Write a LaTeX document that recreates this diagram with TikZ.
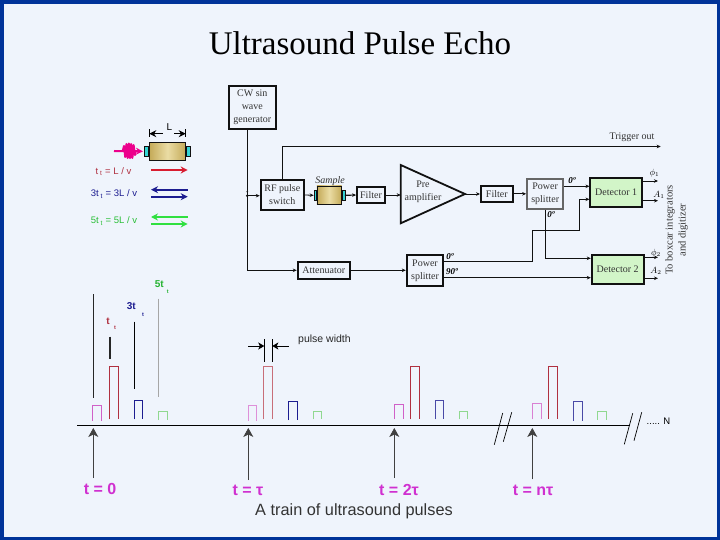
\documentclass[tikz,border=0pt]{standalone}
\usepackage{fontspec}
\setmainfont{Liberation Serif}
\setsansfont{Liberation Sans}
\usetikzlibrary{arrows.meta, positioning, calc}
\definecolor{framecol}{HTML}{003399}
\definecolor{pagecol}{HTML}{EFF4FC}
\definecolor{boxline}{HTML}{111111}
\definecolor{detfill}{HTML}{D2F5C8}
\definecolor{capcyan}{HTML}{35D5D5}
\definecolor{rodgold}{HTML}{C4AA58}
\definecolor{rodlight}{HTML}{EADCA4}
\definecolor{pinkc}{HTML}{D060C8}
\definecolor{magc}{HTML}{D030D0}
\definecolor{redc}{HTML}{B03040}
\definecolor{arrred}{HTML}{D81C30}
\definecolor{navyc}{HTML}{1C1C90}
\definecolor{greenc}{HTML}{30E040}
\definecolor{paleg}{HTML}{90D890}
\tikzset{
  blockbox/.style={draw=boxline, line width=1.8pt, fill=pagecol, align=center, inner sep=0pt,
              font=\fontsize{10}{13}\selectfont, text=black!80},
  detbox/.style={blockbox, fill=detfill},
  crystal/.style={draw=boxline, inner sep=0pt, left color=rodgold, right color=rodgold,
              middle color=rodlight},
  capbox/.style={draw=boxline, line width=0.4pt, fill=capcyan, inner sep=0pt},
  flow/.style={-{Stealth[length=4pt,width=3.5pt]}, line width=0.8pt, draw=boxline},
  plainflow/.style={line width=0.8pt, draw=boxline},
  fatflow/.style={-{Stealth[length=4pt,width=3.5pt]}, line width=1.2pt, draw=boxline},
  angle/.style={font=\fontsize{9}{10}\selectfont\itshape\bfseries},
  outlbl/.style={font=\fontsize{9}{10}\selectfont\itshape},
  eqn/.style={font=\sffamily\fontsize{9.5}{11}\selectfont},
  dirflow/.style={-{Stealth[length=7pt,width=7pt]}, line width=2pt},
  pulse/.style={line width=0.8pt},
  marker/.style={line width=0.9pt},
  tickt/.style={-{Stealth[length=9pt,width=10pt,inset=2.5pt]}, line width=0.7pt, draw=black!75},
  widthflow/.style={-{Stealth[length=6pt,width=7pt,inset=1.5pt]}, line width=0.9pt, draw=black},
  tlbl/.style={text=magc, font=\sffamily\bfseries\fontsize{16}{18}\selectfont},
  echolbl/.style={font=\sffamily\bfseries\fontsize{10}{12}\selectfont},
  echosub/.style={font=\sffamily\bfseries\fontsize{5.5}{7}\selectfont},
  slash/.style={line width=0.7pt, draw=black},
}

\begin{document}
\begin{tikzpicture}[x=1pt,y=-1pt]
  \useasboundingbox (0,0) rectangle (720,540);
  \fill[framecol] (0,0) rectangle (720,540);
  \fill[pagecol] (4,4) rectangle (717,537);
  \node[font=\fontsize{33}{37}\selectfont] (title) at (360,43) {Ultrasound Pulse Echo};

  % sample sketch and the three passes
  \node[crystal, line width=0.9pt, minimum width=36.4pt, minimum height=18pt] (rod) at (167.5,151.3) {};
  \node[capbox, minimum width=4pt, minimum height=9.3pt, anchor=east] (rodcapL) at (rod.west) {};
  \node[capbox, minimum width=4.3pt, minimum height=9.3pt, anchor=west] (rodcapR) at (rod.east) {};
  \node[font=\sffamily\fontsize{10}{11}\selectfont] (lenL) at (169.3,127.3) {L};
  \coordinate (dimA) at (162.5,133.7);
  \coordinate (dimB) at (174,133.7);
  \draw[line width=0.8pt] (149.3,129.3) -- (149.3,137.3);
  \draw[line width=0.8pt] (185.7,129.3) -- (185.7,137.3);
  \draw[-{Stealth[length=7pt,width=7pt]}, line width=1.4pt] (dimA) -- (149.3,133.7);
  \draw[-{Stealth[length=7pt,width=7pt]}, line width=1.4pt] (dimB) -- (185.7,133.7);
  \coordinate (burst) at (114,151);
  \draw[dirflow, magenta] (burst) -- ($(rodcapL.west)+(-1.5,0)$);
  \draw[magenta, line width=2pt, line join=round] (122.7,151) -- (124,146) -- (125.2,157) -- (126.4,144) -- (127.6,158)
    -- (128.8,143.5) -- (130,158) -- (131.2,144) -- (132.4,158) -- (133.6,145) -- (135,155) -- (135.8,151);

  \node[eqn, text=redc] (eqA) at (113.5,171.5) {t\textsubscript{ t} = L / v};
  \node[eqn, text=navyc] (eqB) at (114,194) {3t\textsubscript{ t} = 3L / v};
  \node[eqn, text=greenc!85!black] (eqC) at (114,221) {5t\textsubscript{ t} = 5L / v};
  \draw[dirflow, draw=arrred, fill=arrred] (151,170) -- (187.7,170);
  \draw[dirflow, draw=navyc, fill=navyc] (187.7,189.7) -- (151,189.7);
  \draw[dirflow, draw=navyc, fill=navyc] (151,196.7) -- (187.7,196.7);
  \draw[dirflow, draw=greenc, fill=greenc] (187.7,217) -- (151,217);
  \draw[dirflow, draw=greenc, fill=greenc] (151,224) -- (187.7,224);

  % block diagram
  \node[blockbox, minimum width=46.7pt, minimum height=43pt] (cw) at (252.3,107.5) {CW sin\\wave\\generator};
  \node[blockbox, minimum width=43.3pt, minimum height=30pt] (rf) at (282.3,195) {RF pulse\\switch};
  \node[crystal, minimum width=24.7pt, minimum height=18.7pt] (sample) at (329.3,195.3) {};
  \node[capbox, minimum width=2.7pt, minimum height=9.3pt, anchor=east] (capL) at (sample.west) {};
  \node[capbox, minimum width=2.7pt, minimum height=9.3pt, anchor=west] (capR) at (sample.east) {};
  \node[font=\fontsize{10}{11}\selectfont\itshape, text=black!80] (samplelbl) at (330,181) {Sample};
  \node[blockbox, minimum width=28pt, minimum height=16.6pt] (filtA) at (371,195) {Filter};
  \coordinate (ampin) at (400.7,194);
  \coordinate (ampout) at (465,194);
  \draw[draw=boxline, line width=1.8pt, line join=miter] (400.7,165) -- (ampout) -- (400.7,223.3) -- cycle;
  \node[align=center, font=\fontsize{10}{13}\selectfont, text=black!80] (amplbl) at (423,191.5) {Pre\\amplifier};
  \node[blockbox, minimum width=31.7pt, minimum height=16.3pt] (filtB) at (496.8,193.8) {Filter};
  \node[blockbox, draw=black!60, minimum width=36.3pt, minimum height=29.7pt] (splitA) at (545.2,193.8) {Power\\splitter};
  \node[detbox, minimum width=51.7pt, minimum height=29.3pt] (detA) at (616.2,192.7) {Detector 1};
  \node[detbox, minimum width=52pt, minimum height=29.3pt] (detB) at (617.7,269.7) {Detector 2};
  \node[blockbox, minimum width=52.3pt, minimum height=17.3pt] (att) at (323.8,270.3) {Attenuator};
  \node[blockbox, minimum width=36.6pt, minimum height=30.7pt] (splitB) at (425,270.3) {Power\\splitter};

  \coordinate (junc) at (247.3,195.7);
  \coordinate (trigend) at (660.7,146.5);
  \draw[plainflow] (cw.south -| junc) -- (junc);
  \draw[flow] (junc) |- (att.west);
  \fill[boxline] (junc) circle (1.4pt);
  \fill[boxline] (247.3,191.7) circle (0.9pt);
  \draw[flow] (junc) -- (rf.west |- junc);
  \draw[flow] (rf.north) |- (trigend);
  \node[font=\fontsize{10}{11}\selectfont, text=black!80] (triglbl) at (632,137) {Trigger out};
  \draw[flow] (rf.east) -- (capL.west);
  \draw[flow, line width=1.2pt] (capR.east) -- (filtA.west);
  \draw[flow] (filtA.east) -- (filtA.east -| ampin);
  \draw[flow] (ampout) -- (filtB.west |- ampout);
  \draw[fatflow] (filtB.east) -- (splitA.west);
  \draw[flow] (att.east) -- (splitB.west);

  % phase lines to the detectors
  \coordinate (dAupper) at (detA.west |- 0,186.3);
  \coordinate (dAlower) at (detA.west |- 0,199.3);
  \draw[flow] (splitA.east |- dAupper) -- (dAupper);
  \draw[flow] (splitA.south) |- (detB.west |- 0,258.3);
  \draw[flow, line width=1pt] (splitB.east |- 0,261.7) -- (532.3,261.7) -- (532.3,230.3) -- (579.3,230.3) |- (dAlower);
  \draw[flow] (splitB.east |- 0,277.7) -- (detB.west |- 0,277.7);
  \node[angle] (degA) at (572,181) {0º};
  \node[angle] (degB) at (551,215) {0º};
  \node[angle] (degC) at (450,256.5) {0º};
  \node[angle] (degD) at (452,272) {90º};

  \draw[flow] (detA.east |- 0,181) -- (658,181);
  \draw[flow] (detA.east |- 0,200.7) -- (658,200.7);
  \draw[flow] (detB.east |- 0,257.3) -- (658,257.3);
  \draw[flow] (detB.east |- 0,278.3) -- (658,278.3);
  \node[outlbl] (phiA) at (654.5,173) {$\phi_1$};
  \node[outlbl] (ampA) at (659,195) {$A_1$};
  \node[outlbl] (phiB) at (656,253) {$\phi_2$};
  \node[outlbl] (ampB) at (656,271) {$A_2$};
  \node[rotate=90, align=center, font=\fontsize{10.5}{13}\selectfont, text=black!80] (boxcar) at (676.5,230) {To boxcar integrators\\and digitizer};

  % pulse train
  \coordinate (axisA) at (77,425.3);
  \coordinate (axisB) at (630,425.3);
  \draw[line width=0.9pt] (axisA) -- (axisB);
  \foreach \xa/\xb/\top/\bot/\col in {
      92.3/101.7/405.3/420.7/pinkc, 109.7/118/366.3/419.3/redc, 134.3/142.7/400.3/419.3/navyc, 158.7/167/411.7/420/paleg,
      248/256.7/405.3/420.7/pinkc!70, 263.3/272.7/366/419.3/redc!70, 288.7/297.3/401.7/420/navyc, 313.3/321.7/411.7/419.3/paleg,
      394.3/403.3/404/419.3/pinkc, 410.7/419.3/366/419.3/redc, 435.3/443.7/400.7/419.3/navyc!80, 459.3/467.7/411.7/419.3/paleg,
      532.3/541.7/403.3/419.3/pinkc!80, 548.7/557.7/366/419/redc, 573.3/582.3/401.3/420.7/navyc!80, 597.3/606.7/411.3/419.7/paleg}{
    \draw[pulse, draw=\col] (\xa,\bot) |- (\xb,\top) -- (\xb,\bot);
  }
  \foreach \ax/\ay/\bx/\by in {494.3/444.7/502.7/413, 503.3/441.7/511.7/412.3, 624.3/444.3/632.7/413.3, 634/440.7/641.7/412.3}{
    \draw[slash] (\ax,\ay) -- (\bx,\by);
  }
  \node[font=\sffamily\fontsize{9.5}{11}\selectfont] (ndots) at (658.5,421) {..... N};

  \node[tlbl] (tzero) at (100,489) {t = 0};
  \node[tlbl] (tone) at (248,490) {t = τ};
  \node[tlbl] (ttwo) at (399,490) {t = 2τ};
  \node[tlbl] (tnth) at (533,490.5) {t = nτ};
  \foreach \nm/\xp/\yb in {zero/93.3/478, one/248.3/480, two/394.3/478, nth/532.3/479.3}{
    \coordinate (base\nm) at (\xp,\yb);
    \coordinate (tip\nm) at (\xp,428);
    \draw[tickt] (base\nm) -- (tip\nm);
  }
  \node[font=\sffamily\fontsize{16.3}{18}\selectfont, text=black!80] (caption) at (354,511) {A train of ultrasound pulses};

  % echo markers over the first group
  \draw[marker, draw=black!85] (93,294) -- (93,398);
  \draw[marker, draw=black!85, line width=1.2pt] (110,336.7) -- (110,359);
  \draw[marker, draw=black] (134.3,321.7) -- (134.3,389);
  \draw[marker, draw=black!35] (158.7,298.7) -- (158.7,397);
  \node[echolbl, text=redc] (echoA) at (108,321.7) {t};
  \node[echosub, text=redc] (echoAs) at (115,327.7) {t};
  \node[echolbl, text=navyc] (echoB) at (131.3,305.7) {3t};
  \node[echosub, text=navyc] (echoBs) at (143,314.3) {t};
  \node[echolbl, text=greenc!80!black] (echoC) at (159.3,283.7) {5t};
  \node[echosub, text=greenc!80!black] (echoCs) at (167.7,292) {t};

  % pulse width
  \draw[line width=0.7pt] (264.3,339.3) -- (264.3,361.7);
  \draw[line width=0.7pt] (272.3,339.3) -- (272.3,361.7);
  \coordinate (wA) at (248.3,346);
  \coordinate (wB) at (288.7,346);
  \draw[widthflow] (wA) -- (264.3,346);
  \draw[widthflow] (wB) -- (272.3,346);
  \node[font=\sffamily\fontsize{10.5}{12}\selectfont, text=black!85] (widthlbl) at (324.5,340) {pulse width};
\end{tikzpicture}
\end{document}
